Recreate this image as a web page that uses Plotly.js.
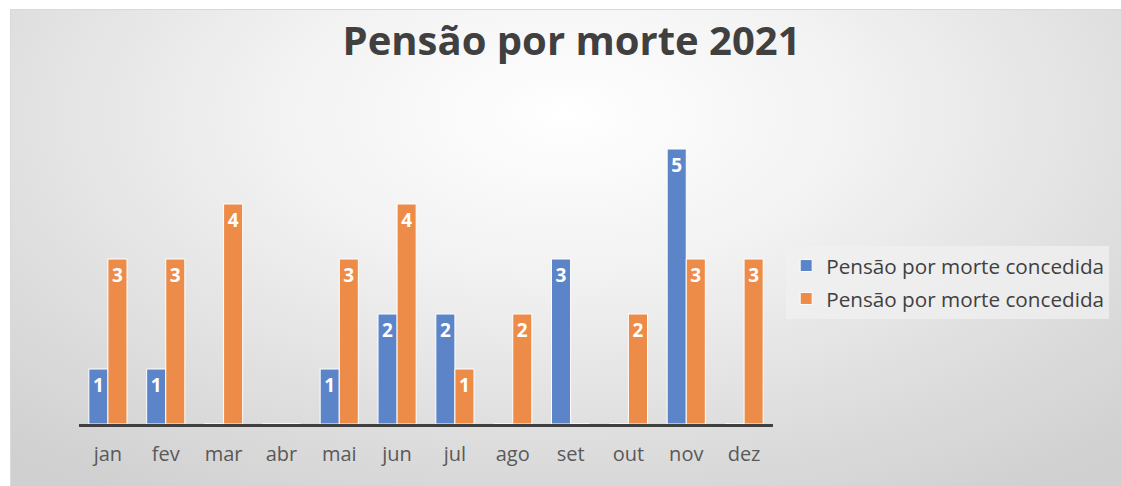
<!DOCTYPE html>
<html>
<head>
<meta charset="utf-8">
<script src="https://cdn.plot.ly/plotly-3.0.1.min.js"></script>
<style>
  html, body { margin: 0; padding: 0; background: #ffffff; }
  #wrap {
    position: absolute; left: 10px; top: 9px; width: 1110px; height: 476px;
    border: 1px solid #d9d9d9;
    background: radial-gradient(ellipse 75% 95% at 50% 22%, #ffffff 0%, #f2f2f2 35%, #dcdcdc 75%, #d0d0d0 100%);
  }
  #chart { width: 1110px; height: 476px; }
</style>
</head>
<body>
<div id="wrap"><div id="chart"></div></div>
<script>
const months = ['jan','fev','mar','abr','mai','jun','jul','ago','set','out','nov','dez'];
const serieAzul = [1, 1, 0, 0, 1, 2, 2, 0, 3, 0, 5, 0];
const serieLaranja = [3, 3, 4, 0, 3, 4, 1, 2, 0, 2, 3, 3];
const seriesName = 'Pensão por morte concedida';
const chartTitle = 'Pensão por morte 2021';

const labelFont = { family: 'Open Sans, sans-serif', size: 19, color: '#ffffff', weight: 'bold' };

function mk(vals, color, grp) {
  return {
    type: 'bar', x: months, y: vals, name: seriesName, legendgroup: grp,
    marker: { color: color, line: { color: '#ffffff', width: 1 } },
    text: vals.map(v => v ? String(v) : ''),
    textposition: 'inside', insidetextanchor: 'end', textangle: 0,
    insidetextfont: labelFont, constraintext: 'none',
    hoverinfo: 'x+y', cliponaxis: false
  };
}

const data = [mk(serieAzul, '#5b84c9', 'a'), mk(serieLaranja, '#ed8c49', 'b')];

const layout = {
  width: 1110, height: 476,
  paper_bgcolor: 'rgba(0,0,0,0)', plot_bgcolor: 'rgba(0,0,0,0)',
  margin: { l: 68, r: 345, t: 84, b: 62 },
  barmode: 'group', bargap: 0.34, bargroupgap: 0.0,
  title: {
    text: chartTitle, x: 0.505, xref: 'container', xanchor: 'center', y: 0.935, yanchor: 'middle',
    font: { family: 'Open Sans, sans-serif', size: 40, color: '#404040', weight: 'bold' }
  },
  xaxis: {
    type: 'category', showgrid: false, zeroline: false,
    showline: true, linecolor: '#404040', linewidth: 3,
    ticks: '', ticklen: 0,
    tickfont: { family: 'Open Sans, sans-serif', size: 20, color: '#595959' },
    ticklabelstandoff: 10
  },
  yaxis: {
    range: [0, 6], visible: false, showgrid: false, zeroline: false, fixedrange: true
  },
  showlegend: true,
  legend: {
    x: 1.019, xanchor: 'left', y: 0.43, yanchor: 'middle',
    bgcolor: 'rgba(240,240,240,0.75)', borderwidth: 0,
    font: { family: 'Open Sans, sans-serif', size: 20.7, color: '#404040' },
    itemwidth: 30, traceorder: 'grouped', tracegroupgap: 3
  }
};

Plotly.newPlot('chart', data, layout, { displayModeBar: false, staticPlot: true });
</script>
</body>
</html>
